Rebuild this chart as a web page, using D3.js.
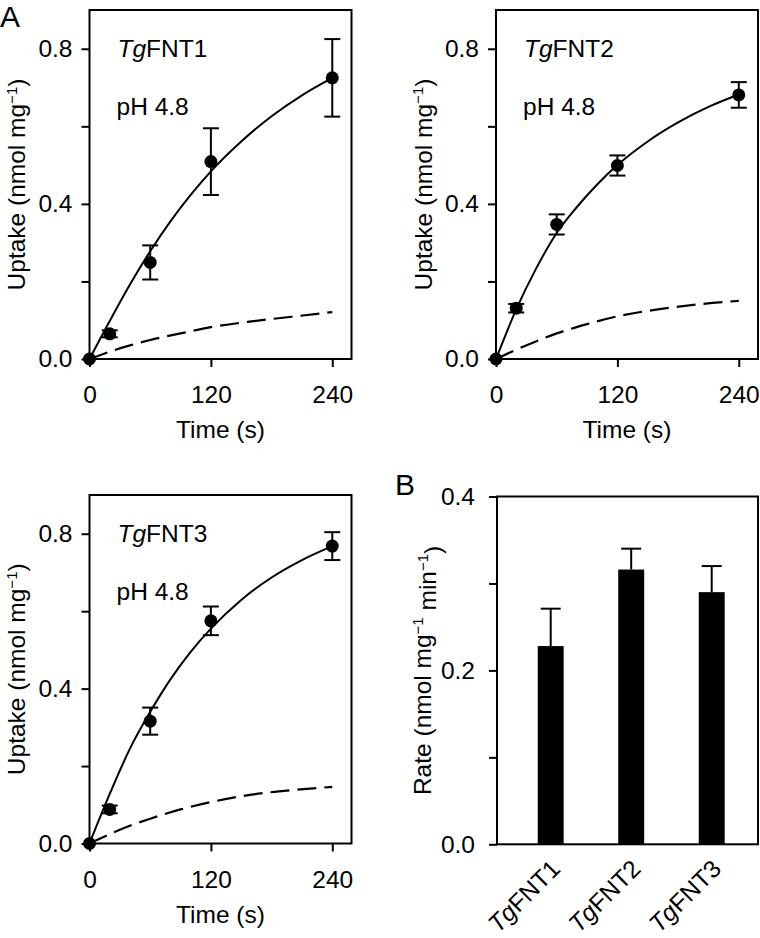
<!DOCTYPE html>
<html>
<head>
<meta charset="utf-8">
<script src="https://cdn.jsdelivr.net/npm/d3@7"></script>
<style>
  html, body { margin: 0; padding: 0; background: #fff; }
  svg { display: block; }
</style>
</head>
<body>
<svg id="chart" width="760" height="938"></svg>
<script>
// ---------------- data ----------------
const timePoints = [0, 20, 60, 120, 240];
const fnt1Uptake = [0, 0.065, 0.249, 0.509, 0.725];
const fnt1Err    = [0, 0.009, 0.044, 0.086, 0.100];
const fnt2Uptake = [0, 0.131, 0.347, 0.499, 0.681];
const fnt2Err    = [0, 0.011, 0.026, 0.026, 0.033];
const fnt3Uptake = [0, 0.088, 0.316, 0.575, 0.768];
const fnt3Err    = [0, 0.010, 0.035, 0.037, 0.036];

const fitTimes = [0, 20, 40, 60, 80, 100, 120, 150, 180, 210, 240];
const fnt1Fit  = [0, 0.098, 0.192, 0.278, 0.355, 0.423, 0.484, 0.561, 0.626, 0.680, 0.725];
const fnt2Fit  = [0, 0.128, 0.235, 0.325, 0.392, 0.450, 0.500, 0.561, 0.610, 0.650, 0.682];
const fnt3Fit  = [0, 0.128, 0.245, 0.340, 0.424, 0.495, 0.555, 0.629, 0.687, 0.732, 0.768];

const ctrlTimes = [0, 20, 40, 60, 90, 120, 160, 200, 240];
const fnt1Ctrl  = [0, 0.019, 0.035, 0.049, 0.066, 0.082, 0.097, 0.109, 0.121];
const fnt2Ctrl  = [0, 0.024, 0.046, 0.066, 0.090, 0.110, 0.128, 0.141, 0.150];
const fnt3Ctrl  = [0, 0.024, 0.046, 0.064, 0.088, 0.107, 0.126, 0.138, 0.146];

const uptakeTicks = [0, 0.2, 0.4, 0.6, 0.8];
const uptakeTickLabels = ["0.0", "", "0.4", "", "0.8"];
const timeTicks = [0, 120, 240];
const timeTickLabels = ["0", "120", "240"];

const rateCats   = ["TgFNT1", "TgFNT2", "TgFNT3"];
const rateValues = [0.228, 0.316, 0.290];
const rateErr    = [0.043, 0.024, 0.030];
const rateTicks = [0, 0.1, 0.2, 0.3, 0.4];
const rateTickLabels = ["0.0", "", "0.2", "", "0.4"];

// ---------------- drawing ----------------
const FONT = "'Liberation Sans', Arial, Helvetica, sans-serif";
const FS = 24.5;
const svg = d3.select("#chart");

function styleAxis(g) {
  g.select(".domain").remove();
  g.selectAll(".tick line").attr("stroke", "#000").attr("stroke-width", 2);
  g.selectAll(".tick text").attr("fill", "#000").style("font-family", FONT).style("font-size", FS + "px");
}

function yTitle(g, x, yc, parts) {
  const t = g.append("text")
    .attr("transform", `translate(${x},${yc}) rotate(-90)`)
    .attr("text-anchor", "middle")
    .style("font-family", FONT).style("font-size", FS + "px").attr("fill", "#000");
  parts.forEach(p => {
    const ts = t.append("tspan").text(p.t);
    if (p.sup) ts.attr("dy", "-0.55em").style("font-size", "15px");
    if (p.down) ts.attr("dy", p.down);
  });
}

function uptakePanel(box, uptake, err, fit, ctrl, name) {
  const g = svg.append("g");
  const x = d3.scaleLinear().domain([0, 259]).range([box.left, box.right]);
  const y = d3.scaleLinear().domain([0, 0.9]).range([box.bottom, box.top]);

  const ax = g.append("g").attr("transform", `translate(${box.left},0)`)
    .call(d3.axisLeft(y).tickValues(uptakeTicks).tickSize(8).tickPadding(9)
      .tickFormat((d, i) => uptakeTickLabels[i]));
  styleAxis(ax);
  const bx = g.append("g").attr("transform", `translate(0,${box.bottom})`)
    .call(d3.axisBottom(x).tickValues(timeTicks).tickSize(8).tickPadding(19)
      .tickFormat((d, i) => timeTickLabels[i]));
  styleAxis(bx);

  // control (dashed)
  const ctrlLine = d3.line().x((d, i) => x(ctrlTimes[i])).y(d => y(d)).curve(d3.curveMonotoneX);
  g.append("path").attr("d", ctrlLine(ctrl)).attr("fill", "none")
    .attr("stroke", "#000").attr("stroke-width", 2.2).attr("stroke-dasharray", "19,8");
  // fit (solid)
  const fitLine = d3.line().x((d, i) => x(fitTimes[i])).y(d => y(d)).curve(d3.curveMonotoneX);
  g.append("path").attr("d", fitLine(fit)).attr("fill", "none")
    .attr("stroke", "#000").attr("stroke-width", 2);

  // error bars
  timePoints.forEach((t, i) => {
    if (err[i] <= 0) return;
    const cx = x(t), y1 = y(uptake[i] + err[i]), y0 = y(uptake[i] - err[i]);
    g.append("line").attr("x1", cx).attr("x2", cx).attr("y1", y1).attr("y2", y0)
      .attr("stroke", "#000").attr("stroke-width", 2);
    [y1, y0].forEach(yy => g.append("line").attr("x1", cx - 8).attr("x2", cx + 8)
      .attr("y1", yy).attr("y2", yy).attr("stroke", "#000").attr("stroke-width", 2));
  });
  // points
  g.selectAll("circle.pt").data(uptake).enter().append("circle")
    .attr("cx", (d, i) => x(timePoints[i])).attr("cy", d => y(d)).attr("r", 6.5).attr("fill", "#000");

  // frame
  g.append("rect").attr("x", box.left).attr("y", box.top)
    .attr("width", box.right - box.left).attr("height", box.bottom - box.top)
    .attr("fill", "none").attr("stroke", "#000").attr("stroke-width", 2);

  // annotations
  const ann = g.append("text").attr("x", box.left + 28).attr("y", box.top + 47)
    .style("font-family", FONT).style("font-size", FS + "px").attr("fill", "#000");
  ann.append("tspan").text("Tg").style("font-style", "italic");
  ann.append("tspan").text(name);
  g.append("text").attr("x", box.left + 27).attr("y", box.top + 105)
    .style("font-family", FONT).style("font-size", FS + "px").attr("fill", "#000").text("pH 4.8");

  // titles
  yTitle(g, box.left - 64.5, (box.top + box.bottom) / 2,
    [{t: "Uptake (nmol mg"}, {t: "\u22121", sup: true}, {t: ")", down: "0.35em"}]);
  g.append("text").attr("x", (box.left + box.right) / 2).attr("y", box.bottom + 79)
    .attr("text-anchor", "middle").style("font-family", FONT).style("font-size", FS + "px")
    .attr("fill", "#000").text("Time (s)");
}

uptakePanel({left: 89.5, right: 351.5, top: 10, bottom: 359}, fnt1Uptake, fnt1Err, fnt1Fit, fnt1Ctrl, "FNT1");
uptakePanel({left: 496, right: 758, top: 10, bottom: 359}, fnt2Uptake, fnt2Err, fnt2Fit, fnt2Ctrl, "FNT2");
uptakePanel({left: 89.5, right: 351.5, top: 495, bottom: 843.5}, fnt3Uptake, fnt3Err, fnt3Fit, fnt3Ctrl, "FNT3");

// ---------------- panel B ----------------
(function () {
  const box = {left: 497, right: 758, top: 496.5, bottom: 844.3};
  const g = svg.append("g");
  const x = d3.scaleBand().domain(rateCats).range([box.left, box.right])
    .paddingInner(0.678).paddingOuter(0.46).align(0.55);
  const y = d3.scaleLinear().domain([0, 0.4]).range([box.bottom, box.top]);

  const ax = g.append("g").attr("transform", `translate(${box.left},0)`)
    .call(d3.axisLeft(y).tickValues(rateTicks).tickSize(8).tickPadding(14)
      .tickFormat((d, i) => rateTickLabels[i]));
  styleAxis(ax);

  rateCats.forEach((c, i) => {
    const cx = x(c) + x.bandwidth() / 2;
    const yt = y(rateValues[i] + rateErr[i]);
    g.append("line").attr("x1", cx).attr("x2", cx).attr("y1", y(rateValues[i])).attr("y2", yt)
      .attr("stroke", "#000").attr("stroke-width", 2);
    g.append("line").attr("x1", cx - 10).attr("x2", cx + 10).attr("y1", yt).attr("y2", yt)
      .attr("stroke", "#000").attr("stroke-width", 2);
  });
  g.selectAll("rect.bar").data(rateValues).enter().append("rect")
    .attr("x", (d, i) => x(rateCats[i])).attr("width", x.bandwidth())
    .attr("y", d => y(d)).attr("height", d => box.bottom - y(d)).attr("fill", "#000");

  g.append("rect").attr("x", box.left).attr("y", box.top)
    .attr("width", box.right - box.left).attr("height", box.bottom - box.top)
    .attr("fill", "none").attr("stroke", "#000").attr("stroke-width", 2);

  rateCats.forEach((c, i) => {
    const cx = x(c) + x.bandwidth() / 2;
    const t = g.append("text").attr("transform", `translate(${cx + 11},${box.bottom + 26}) rotate(-45)`)
      .attr("text-anchor", "end").style("font-family", FONT).style("font-size", FS + "px").attr("fill", "#000");
    t.append("tspan").text(c.slice(0, 2)).style("font-style", "italic");
    t.append("tspan").text(c.slice(2));
  });

  yTitle(g, box.left - 66, (box.top + box.bottom) / 2,
    [{t: "Rate (nmol mg"}, {t: "\u22121", sup: true}, {t: " min", down: "0.55em"}, {t: "\u22121", sup: true}, {t: ")", down: "0.55em"}]);
})();

// panel letters
svg.append("text").attr("x", 0).attr("y", 27).style("font-family", FONT).style("font-size", "30px").attr("fill", "#000").text("A");
svg.append("text").attr("x", 395).attr("y", 495).style("font-family", FONT).style("font-size", "30px").attr("fill", "#000").text("B");
</script>
</body>
</html>
